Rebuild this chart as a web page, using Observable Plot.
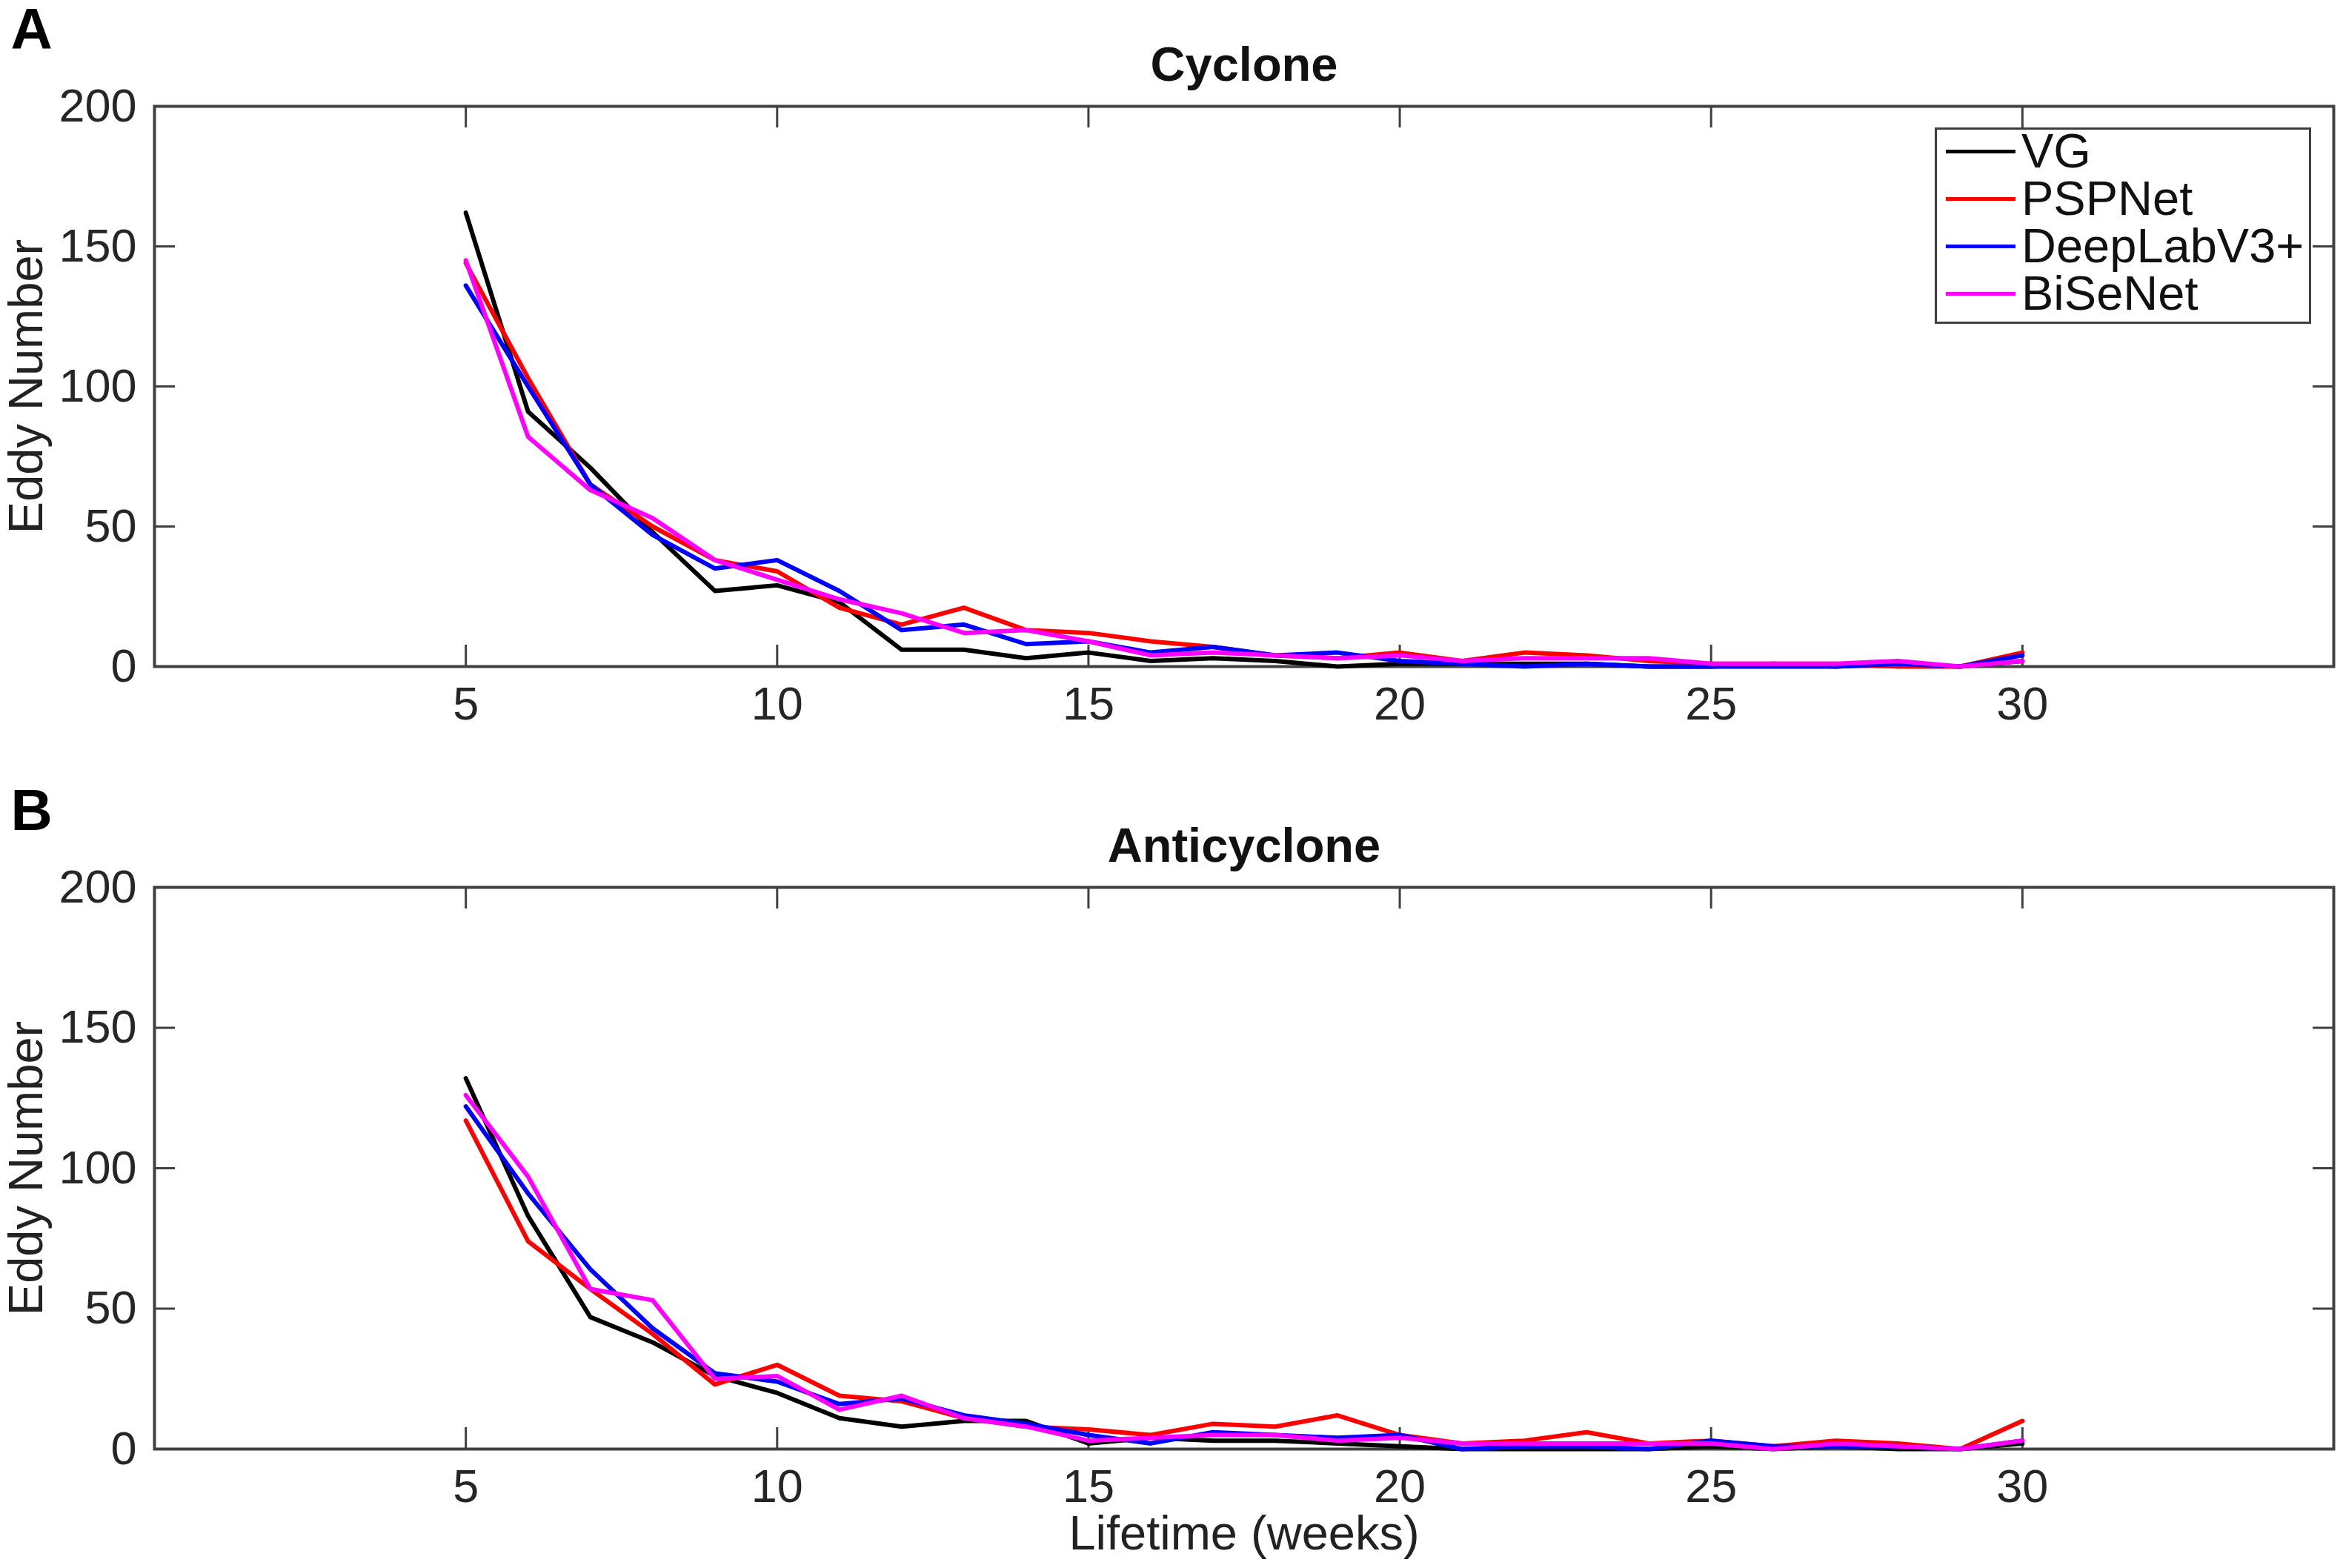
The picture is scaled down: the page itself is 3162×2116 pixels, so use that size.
<!DOCTYPE html>
<html>
<head>
<meta charset="utf-8">
<script src="https://cdn.jsdelivr.net/npm/d3@7"></script>
<script src="https://cdn.jsdelivr.net/npm/@observablehq/plot@0.6"></script>
<style>
  html, body { margin: 0; padding: 0; background: white; }
  #wrap { position: relative; width: 3162px; height: 2116px; background: white; font-family: 'Liberation Sans', Arial, sans-serif; }
  #wrap svg { position: absolute; left: 0; }
  #legend { position: absolute; left: 2611px; top: 172px; width: 508px; height: 265px; box-sizing: border-box;
            border: 3px solid #404040; background: white; padding-top: 0px; }
  .row { position: relative; top: -3px; display: flex; align-items: center; height: 64px; font-size: 65px; line-height: 64px; color: #111; }
  .sw { margin-left: 12px; width: 94px; height: 5px; margin-right: 8px; flex: none; }
  .lab { display: inline-block; height: 64px; line-height: 64px; overflow: visible; white-space: nowrap; }
</style>
</head>
<body>
<div id="wrap"></div>
<script>
// ---- data ----
const weeks = [5,6,7,8,9,10,11,12,13,14,15,16,17,18,19,20,21,22,23,24,25,26,27,28,29,30];
const names = ["VG", "PSPNet", "DeepLabV3+", "BiSeNet"];
const colors = ["#000000", "#ff0000", "#0000ff", "#ff00ff"];
const xTicks = [5, 10, 15, 20, 25, 30];
const yTicks = [0, 50, 100, 150, 200];

// Panel A: Cyclone
const cycVG     = [162, 91, 71, 48, 27, 29, 23, 6, 6, 3, 5, 2, 3, 2, 0, 1, 1, 1, 1, 0, 0, 1, 0, 1, 0, 2];
const cycPSPNet = [144, 103, 65, 50, 38, 34, 21, 15, 21, 13, 12, 9, 7, 4, 3, 5, 2, 5, 4, 2, 1, 1, 1, 0, 0, 5];
const cycDeepLab= [136, 100, 65, 47, 35, 38, 27, 13, 15, 8, 9, 5, 7, 4, 5, 2, 1, 0, 1, 0, 0, 0, 0, 1, 0, 4];
const cycBiSeNet= [145, 82, 63, 53, 38, 31, 24, 19, 12, 13, 9, 4, 5, 4, 3, 4, 2, 3, 3, 3, 1, 1, 1, 2, 0, 2];

// Panel B: Anticyclone
const antVG     = [132, 83, 47, 38, 26, 20, 11, 8, 10, 10, 2, 4, 3, 3, 2, 1, 0, 0, 0, 0, 1, 0, 1, 0, 0, 2];
const antPSPNet = [117, 74, 57, 41, 23, 30, 19, 17, 11, 8, 7, 5, 9, 8, 12, 5, 2, 3, 6, 2, 3, 1, 3, 2, 0, 10];
const antDeepLab= [122, 91, 64, 43, 27, 24, 16, 18, 12, 9, 5, 2, 6, 5, 4, 5, 0, 1, 1, 0, 3, 1, 1, 1, 0, 3];
const antBiSeNet= [126, 97, 57, 53, 25, 26, 14, 19, 11, 8, 3, 4, 5, 5, 3, 4, 2, 2, 2, 2, 2, 0, 2, 1, 0, 3];

const axisColor = "#404040";

function toRows(seriesList) {
  return seriesList.flatMap((vals, k) => weeks.map((w, i) => ({week: w, count: vals[i], name: names[k]})));
}

function panel({title, letter, series, height, marginBottom, xLabel}) {
  const marginTop = 143, marginLeft = 208, marginRight = 13, width = 3162;
  const innerH = height - marginTop - marginBottom;
  const innerW = width - marginLeft - marginRight;
  const rows = toRows(series);
  const marks = [
    Plot.frame({stroke: axisColor, strokeWidth: 4}),
    Plot.tickX(xTicks, {x: d => d, insetTop: innerH - 29, stroke: axisColor, strokeWidth: 3}),
    Plot.tickX(xTicks, {x: d => d, insetBottom: innerH - 29, stroke: axisColor, strokeWidth: 3}),
    Plot.tickY(yTicks, {y: d => d, insetRight: innerW - 28, stroke: axisColor, strokeWidth: 3}),
    Plot.tickY(yTicks, {y: d => d, insetLeft: innerW - 28, stroke: axisColor, strokeWidth: 3}),
    Plot.axisX({ticks: xTicks, tickSize: 0, tickPadding: 27, label: null, fontSize: 63}),
    Plot.axisY({ticks: yTicks, tickSize: 0, tickPadding: 24, label: null, fontSize: 63}),
    Plot.lineY(rows, {x: "week", y: "count", stroke: "name", z: "name", strokeWidth: 6, strokeLinejoin: "round"}),
    Plot.text([title], {text: d => d, frameAnchor: "top", lineAnchor: "middle", dy: -55, fontWeight: "bold", fontSize: 65, fill: "#111"}),
    Plot.text([letter], {text: d => d, frameAnchor: "top-left", textAnchor: "start", lineAnchor: "middle", dx: -194, dy: -102, fontWeight: "bold", fontSize: 78, fill: "#000"}),
    Plot.text(["Eddy Number"], {text: d => d, frameAnchor: "left", textAnchor: "middle", lineAnchor: "middle", rotate: -90, dx: -172, fontSize: 65, fill: "#222"})
  ];
  if (xLabel) {
    marks.push(Plot.text([xLabel], {text: d => d, frameAnchor: "bottom", lineAnchor: "middle", dy: 115, fontSize: 65, fill: "#222"}));
  }
  return Plot.plot({
    width, height, marginTop, marginLeft, marginRight, marginBottom,
    x: {domain: [0, 35]},
    y: {domain: [0, 200]},
    color: {domain: names, range: colors},
    style: {fontFamily: "'Liberation Sans', Arial, sans-serif", fontSize: "60px", color: "#262626", background: "white", overflow: "visible"},
    marks
  });
}

const wrap = document.getElementById("wrap");

const svgA = panel({title: "Cyclone", letter: "A", series: [cycVG, cycPSPNet, cycDeepLab, cycBiSeNet], height: 1040, marginBottom: 141});
svgA.style.top = "0px";
wrap.appendChild(svgA);

const svgB = panel({title: "Anticyclone", letter: "B", series: [antVG, antPSPNet, antDeepLab, antBiSeNet], height: 1062, marginBottom: 161, xLabel: "Lifetime (weeks)"});
svgB.style.top = "1054px";
wrap.appendChild(svgB);

// legend (inside panel A)
const legend = document.createElement("div");
legend.id = "legend";
names.forEach((n, i) => {
  const row = document.createElement("div");
  row.className = "row";
  const sw = document.createElement("span");
  sw.className = "sw";
  sw.style.background = colors[i];
  const t = document.createElement("span");
  t.className = "lab";
  t.textContent = n;
  row.appendChild(sw);
  row.appendChild(t);
  legend.appendChild(row);
});
wrap.appendChild(legend);
</script>
</body>
</html>
